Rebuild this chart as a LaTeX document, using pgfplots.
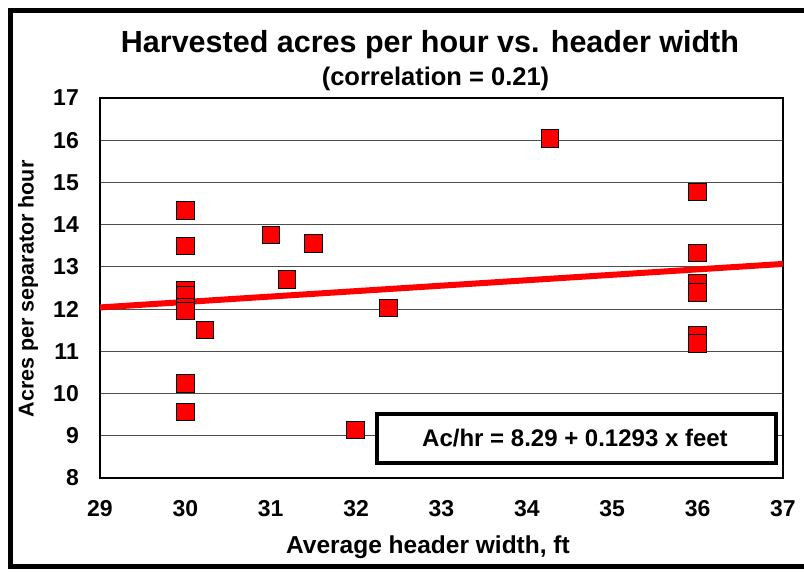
\documentclass[border=0pt]{standalone}
\usepackage{pgfplots}
\pgfplotsset{compat=1.18}
\usepackage{fontspec}
\setmainfont{Liberation Sans}
\begin{document}
\begin{tikzpicture}[x=1pt,y=1pt]
\useasboundingbox (0,0) rectangle (804,572);
\fill[white] (0,0) rectangle (804,572);
\draw[line width=5pt] (812,561) -- (10.5,561) -- (10.5,5) -- (812,5);
\begin{axis}[
  at={(100pt,94pt)}, anchor=south west,
  width=683pt, height=380pt, scale only axis,
  xmin=29, xmax=37, ymin=8, ymax=17,
  xtick={29,...,37}, ytick={8,...,17},
  major tick length=0pt,
  ymajorgrids, grid style={black!70, line width=1.1pt},
  axis line style={black, line width=1.5pt},
  /pgf/number format/assume math mode=true,
  xticklabel style={font=\bfseries\fontsize{23}{23}\selectfont, inner sep=0pt, anchor=north, yshift=-22pt},
  yticklabel style={font=\bfseries\fontsize{23}{23}\selectfont, inner sep=0pt, anchor=east, xshift=-21pt},
  clip=false,
]
\addplot[red, line width=6pt, no marks] coordinates {(29,12.04) (37,13.07)};
\addplot[only marks, mark=square*, mark size=8.8pt, mark options={fill=red, draw=black, line width=0.8pt}] coordinates {
(30,14.34) (30,13.50) (30,12.45) (30,12.33) (30,12.04) (30,11.96) (30,10.24) (30,9.57)
(30.23,11.51) (31.0,13.76) (31.19,12.71) (31.5,13.55) (31.99,9.14) (32.38,12.03)
(34.27,16.05) (36,14.78) (36,13.33) (36,12.61) (36,12.40) (36,11.39) (36,11.19)
};
\end{axis}
\draw[line width=3.5pt, fill=white] (377,109) rectangle (776,158);
\node[font=\bfseries\fontsize{24}{24}\selectfont] at (575,133.5) {Ac/hr = 8.29 + 0.1293 x feet};
\node[font=\bfseries\fontsize{30.5}{30.5}\selectfont] at (430,527) {Harvested acres per hour vs. header width};
\node[font=\bfseries\fontsize{25.5}{25.5}\selectfont] at (435.5,493) {(correlation = 0.21)};
\node[font=\bfseries\fontsize{24.5}{24.5}\selectfont] at (428,25) {Average header width, ft};
\node[font=\bfseries\fontsize{21.5}{21.5}\selectfont, rotate=90] at (28,283) {Acres per separator hour};
\end{tikzpicture}
\end{document}
